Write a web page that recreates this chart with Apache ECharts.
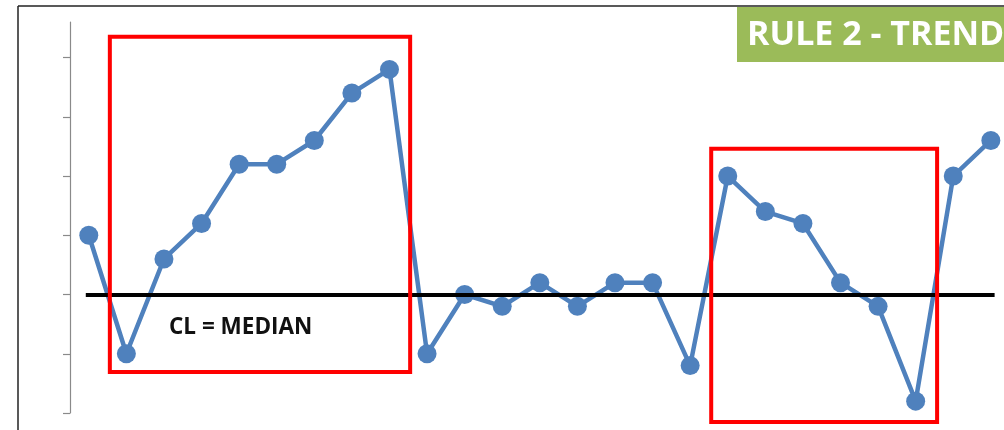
<!DOCTYPE html>
<html>
<head>
<meta charset="utf-8">
<script src="https://cdn.jsdelivr.net/npm/echarts@6/dist/echarts.min.js"></script>
<style>
html,body{margin:0;padding:0;background:#fff;}
#chart{width:1004px;height:430px;}
</style>
</head>
<body>
<div id="chart"></div>
<script>
// Data
const categories = [1,2,3,4,5,6,7,8,9,10,11,12,13,14,15,16,17,18,19,20,21,22,23,24,25];
const values = [3.0,1.0,2.6,3.2,4.2,4.2,4.6,5.4,5.8,1.0,2.0,1.8,2.2,1.8,2.2,2.2,0.8,4.0,3.4,3.2,2.2,1.8,0.2,4.0,4.6];
const medianValue = 2;
const medianSpan = [0.92, 25.1];
// trend boxes in data units: [xFrom, xTo, yFrom, yTo]
const trendBox1 = [1.56, 9.55, 0.69, 6.35];
const trendBox2 = [17.56, 23.57, -0.15, 4.46];
const yTicks = [0,1,2,3,4,5,6];
const titleText = 'RULE 2 - TREND';
const medianLabel = 'CL = MEDIAN';

const chart = echarts.init(document.getElementById('chart'), null, {renderer:'canvas'});
const seriesData = categories.map((c,i)=>[c, values[i]]);

chart.setOption({
  animation:false,
  backgroundColor:'#fff',
  grid:{left:70, top:22, right:0, height:391},
  xAxis:{type:'value', min:0.5, max:25.35, show:false},
  yAxis:{
    type:'value', min:yTicks[0], max:6.6, interval:1,
    axisLine:{show:true, lineStyle:{color:'#8a8a8a', width:1.2}},
    axisTick:{show:true, length:7, customValues:yTicks, lineStyle:{color:'#8a8a8a', width:1.2}},
    axisLabel:{show:false},
    splitLine:{show:false}
  },
  graphic:[
    {type:'line', shape:{x1:18,y1:6,x2:1004,y2:6}, style:{stroke:'#222', lineWidth:1.5}, z:100},
    {type:'line', shape:{x1:18,y1:6,x2:18,y2:430}, style:{stroke:'#222', lineWidth:1.5}, z:100},
    {type:'rect', shape:{x:737,y:7,width:270,height:55}, style:{fill:'#9BBB59'}, z:100},
    {type:'text', x:747, y:35, style:{text:titleText, fill:'#fff', font:'bold 34px "Open Sans"', textVerticalAlign:'middle'}, z:101},
    {type:'text', x:169, y:328, style:{text:medianLabel, fill:'#111', font:'bold 22.5px "Open Sans"', textVerticalAlign:'middle'}, z:101}
  ],
  series:[
    {
      type:'custom',
      data:[trendBox1, trendBox2],
      renderItem:function(params, api){
        const p0 = api.coord([api.value(0), api.value(3)]);
        const p1 = api.coord([api.value(1), api.value(2)]);
        return {type:'rect', shape:{x:p0[0], y:p0[1], width:p1[0]-p0[0], height:p1[1]-p0[1]},
          style:{fill:'none', stroke:'#FF0000', lineWidth:4}};
      },
      encode:{x:[0,1], y:[2,3]},
      z:5
    },
    {
      type:'line',
      data:seriesData,
      symbol:'circle',
      symbolSize:19,
      lineStyle:{color:'#4F81BD', width:4.5},
      itemStyle:{color:'#4F81BD'},
      z:3,
      markLine:{
        silent:true, symbol:'none',
        lineStyle:{color:'#000', width:4, type:'solid'},
        label:{show:false},
        data:[[{coord:[medianSpan[0], medianValue]},{coord:[medianSpan[1], medianValue]}]]
      }
    }
  ]
});
</script>
</body>
</html>
